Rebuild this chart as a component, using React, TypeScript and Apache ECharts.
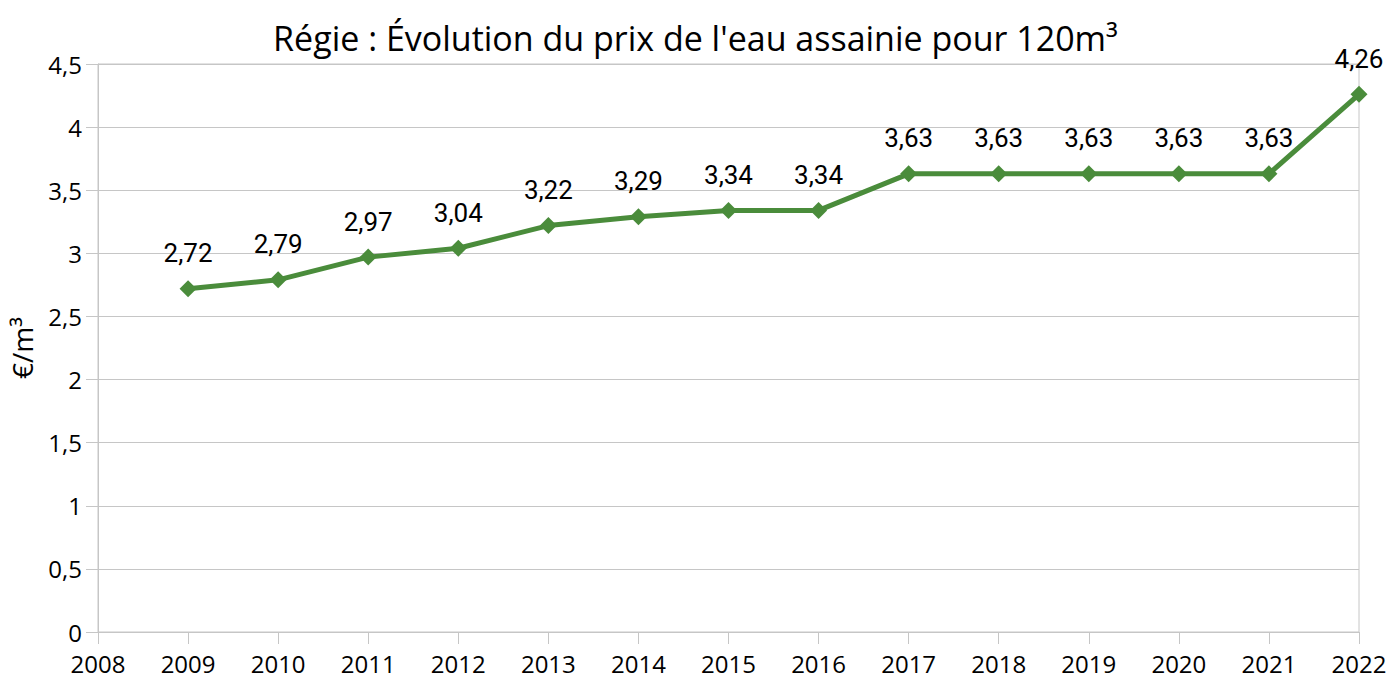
import React, { useEffect, useRef } from "react";
import * as echarts from "echarts";

const years = [2009, 2010, 2011, 2012, 2013, 2014, 2015, 2016, 2017, 2018, 2019, 2020, 2021, 2022];
const prices = [2.72, 2.79, 2.97, 3.04, 3.22, 3.29, 3.34, 3.34, 3.63, 3.63, 3.63, 3.63, 3.63, 4.26];
const title = "Régie : Évolution du prix de l'eau assainie pour 120m³";
const yName = "€/m³";

export default function App() {
  const ref = useRef<HTMLDivElement>(null);
  useEffect(() => {
    const chart = echarts.init(ref.current!, null, { renderer: "svg" });
    const gray = "#c6c6c6";
    chart.setOption({
      animation: false,
      backgroundColor: "#ffffff",
      title: {
        text: title,
        left: "center",
        top: 16,
        textStyle: { fontFamily: "Open Sans", fontSize: 34, fontWeight: "normal", color: "#000" },
      },
      grid: { left: 97, right: 32, top: 64, bottom: 50, show: true, borderColor: gray, borderWidth: 1 },
      xAxis: {
        type: "value",
        min: 2008,
        max: 2022,
        interval: 1,
        axisLine: { show: true, lineStyle: { color: gray, width: 1 } },
        axisTick: { show: true, length: 12, lineStyle: { color: gray } },
        splitLine: { show: false },
        axisLabel: {
          formatter: (v: number) => String(v),
          fontFamily: "Open Sans",
          fontSize: 24,
          color: "#000",
          margin: 19,
        },
      },
      yAxis: {
        type: "value",
        min: 0,
        max: 4.5,
        interval: 0.5,
        name: yName,
        nameLocation: "middle",
        nameGap: 62,
        nameRotate: 90,
        nameTextStyle: { fontFamily: "Open Sans", fontSize: 28, color: "#000" },
        axisLine: { show: true, lineStyle: { color: gray, width: 1 } },
        axisTick: { show: true, length: 12, lineStyle: { color: gray } },
        splitLine: { show: true, lineStyle: { color: gray, width: 1 } },
        axisLabel: {
          formatter: (v: number) => String(v).replace(".", ","),
          fontFamily: "Open Sans",
          fontSize: 24,
          color: "#000",
          margin: 16,
        },
      },
      series: [
        {
          type: "line",
          data: years.map((y, i) => [y, prices[i]]),
          symbol: "diamond",
          symbolSize: 17,
          lineStyle: { color: "#4a8c3b", width: 5 },
          itemStyle: { color: "#4a8c3b" },
          label: {
            show: true,
            position: "top",
            distance: 14,
            formatter: (p: any) => String(p.value[1]).replace(".", ",").padEnd(4, "0"),
            fontFamily: "Roboto",
            fontSize: 26,
            color: "#000",
          },
        },
      ],
    });
    return () => chart.dispose();
  }, []);
  return <div ref={ref} style={{ position: "fixed", left: 0, top: 0, width: 1391, height: 682 }} />;
}
